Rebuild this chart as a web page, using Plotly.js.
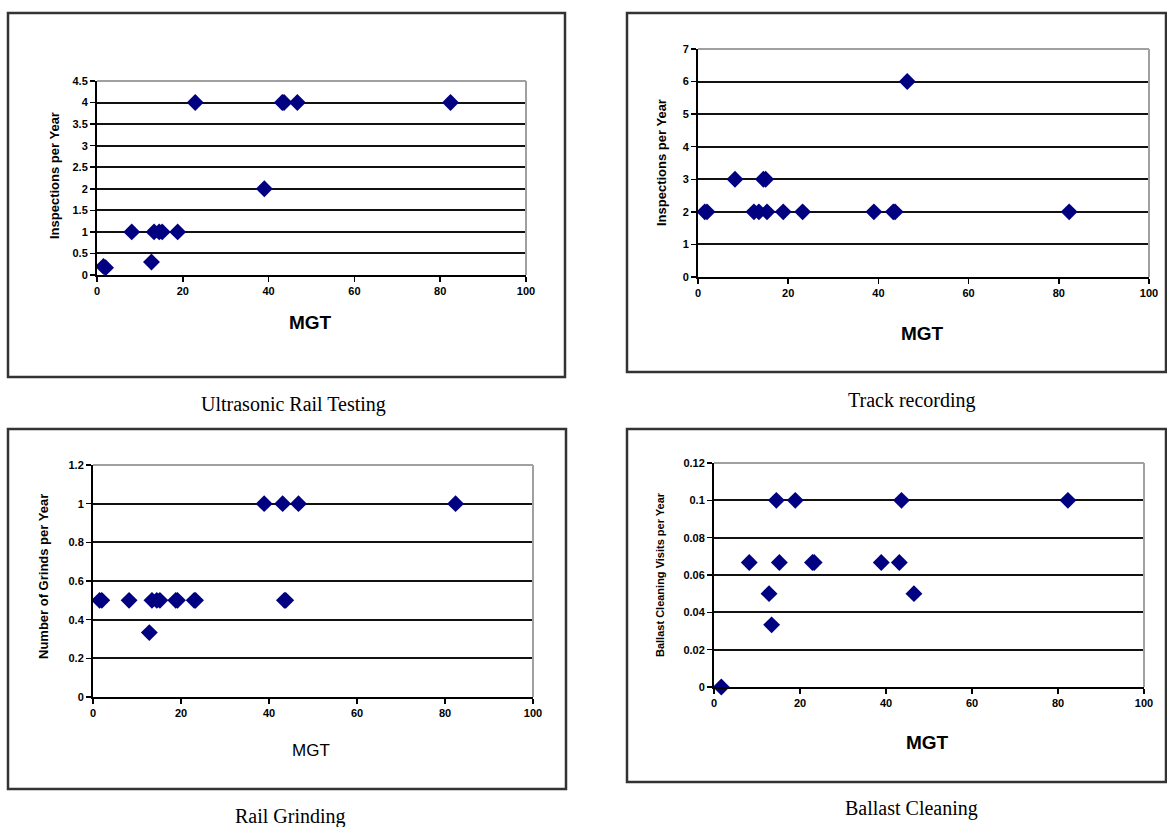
<!DOCTYPE html>
<html>
<head>
<meta charset="utf-8">
<script src="https://cdn.plot.ly/plotly-3.0.1.min.js"></script>
<style>html,body{margin:0;padding:0;background:#fff;}#chart{width:1167px;height:827px;}</style>
</head>
<body>
<div id="chart"></div>
<script>
// ---- data ----
const panelTitles = ["Ultrasonic Rail Testing", "Track recording", "Rail Grinding", "Ballast Cleaning"];
const yTitles = ["Inspections per Year", "Inspections per Year", "Number of Grinds per Year", "Ballast Cleaning Visits per Year"];
const xTitle = "MGT";

const utX = [1.5, 2.0, 8.1, 12.7, 13.3, 14.5, 15.2, 18.8, 22.9, 39.0, 43.2, 43.6, 46.7, 82.4];
const utY = [0.2, 0.17, 1, 0.3, 1, 1, 1, 1, 4, 2, 4, 4, 4, 4];

const trX = [1.5, 2.0, 8.2, 12.4, 13.5, 14.5, 15.0, 15.3, 18.9, 23.2, 39.0, 43.3, 43.7, 46.4, 82.3];
const trY = [2, 2, 3, 2, 2, 3, 3, 2, 2, 2, 2, 2, 2, 6, 2];

const rgX = [1.5, 2.0, 8.2, 12.8, 13.4, 14.5, 15.2, 18.8, 19.2, 23.0, 23.3, 38.9, 43.1, 43.5, 43.8, 46.7, 82.4];
const rgY = [0.5, 0.5, 0.5, 0.333, 0.5, 0.5, 0.5, 0.5, 0.5, 0.5, 0.5, 1, 1, 0.5, 0.5, 1, 1];

const bcX = [1.7, 8.2, 12.8, 13.4, 14.5, 15.2, 18.9, 22.9, 23.3, 38.9, 43.1, 43.6, 46.5, 82.3];
const bcY = [0, 0.0667, 0.05, 0.0333, 0.1, 0.0667, 0.1, 0.0667, 0.0667, 0.0667, 0.0667, 0.1, 0.05, 0.1];

const xTicks = [0, 20, 40, 60, 80, 100];
const utTicks = [0, 0.5, 1, 1.5, 2, 2.5, 3, 3.5, 4, 4.5];
const trTicks = [0, 1, 2, 3, 4, 5, 6, 7];
const rgTicks = [0, 0.2, 0.4, 0.6, 0.8, 1, 1.2];
const bcTicks = [0, 0.02, 0.04, 0.06, 0.08, 0.1, 0.12];

// ---- layout geometry (pixels) ----
const W = 1167, H = 827;
const px = v => v / W;
const py = v => 1 - v / H;

const plots = [
  {xs: utX, ys: utY, ticks: utTicks, ytext: ["0","0.5","1","1.5","2","2.5","3","3.5","4","4.5"], l: 97, r: 526, t: 81, b: 275},
  {xs: trX, ys: trY, ticks: trTicks, ytext: null, l: 698, r: 1149, t: 49, b: 277},
  {xs: rgX, ys: rgY, ticks: rgTicks, ytext: ["0","0.2","0.4","0.6","0.8","1","1.2"], l: 93, r: 533, t: 465, b: 697},
  {xs: bcX, ys: bcY, ticks: bcTicks, ytext: ["0","0.02","0.04","0.06","0.08","0.1","0.12"], l: 714, r: 1144, t: 463, b: 687}
];
const boxes = [
  {x0: 8, x1: 565, y0: 13, y1: 377},
  {x0: 627, x1: 1166, y0: 13, y1: 372},
  {x0: 8, x1: 566, y0: 429, y1: 789},
  {x0: 627, x1: 1166, y0: 429, y1: 782}
];
const captionPos = [[293, 404], [912, 400], [290, 816], [912, 808]];
const xTitlePos = [[310, 323, 19, 'bold'], [922, 333, 19, 'bold'], [311, 750, 17, 'normal'], [927, 742, 19, 'bold']];
const yTitlePos = [[54, 176, 13], [661, 163, 13], [43, 577, 13], [660, 575, 11]];

const tickFont = {family: "Arial, 'Liberation Sans', sans-serif", size: 11, color: '#000', weight: 'bold'};

const traces = [];
const layout = {
  width: W, height: H,
  margin: {l: 0, r: 0, t: 0, b: 0},
  paper_bgcolor: '#fff', plot_bgcolor: '#fff',
  showlegend: false,
  shapes: [], annotations: []
};

plots.forEach((p, i) => {
  const n = i + 1;
  const xa = 'x' + (n === 1 ? '' : n), ya = 'y' + (n === 1 ? '' : n);
  const xk = 'xaxis' + (n === 1 ? '' : n), yk = 'yaxis' + (n === 1 ? '' : n);
  traces.push({
    type: 'scatter', mode: 'markers', x: p.xs, y: p.ys, xaxis: xa, yaxis: ya,
    cliponaxis: false,
    marker: {symbol: 'diamond', size: 13, color: '#000080', line: {width: 0}}
  });
  layout[xk] = {
    domain: [px(p.l), px(p.r)], anchor: ya, range: [0, 100],
    tickmode: 'array', tickvals: xTicks, ticktext: xTicks.map(String),
    showgrid: false, zeroline: false, showline: true, linecolor: '#000', linewidth: 2,
    ticks: 'outside', ticklen: 5, tickwidth: 1.5, tickcolor: '#000',
    tickfont: tickFont, fixedrange: true
  };
  const tv = p.ticks;
  layout[yk] = {
    domain: [py(p.b), py(p.t)], anchor: xa, range: [tv[0], tv[tv.length - 1]],
    tickmode: 'array', tickvals: tv, ticktext: p.ytext ? p.ytext : tv.map(String),
    showgrid: true, gridcolor: '#111', gridwidth: 2,
    zeroline: false, showline: true, linecolor: '#000', linewidth: 2,
    ticks: 'outside', ticklen: 5, tickwidth: 1.5, tickcolor: '#000',
    tickfont: tickFont, fixedrange: true
  };
  // grey top and right border of the plot area
  layout.shapes.push({type: 'line', xref: xa + ' domain', yref: ya + ' domain', x0: 0, x1: 1, y0: 1, y1: 1, line: {color: '#a0a0a0', width: 2}, layer: 'above'});
  layout.shapes.push({type: 'line', xref: xa + ' domain', yref: ya + ' domain', x0: 1, x1: 1, y0: 0, y1: 1, line: {color: '#a0a0a0', width: 2}, layer: 'above'});
  // outer chart box
  const b = boxes[i];
  layout.shapes.push({type: 'rect', xref: 'paper', yref: 'paper', x0: px(b.x0), x1: px(b.x1), y0: py(b.y1), y1: py(b.y0), line: {color: '#333', width: 2.5}, fillcolor: 'rgba(0,0,0,0)', layer: 'below'});
  // caption
  layout.annotations.push({xref: 'paper', yref: 'paper', x: px(captionPos[i][0]), y: py(captionPos[i][1]), text: panelTitles[i], showarrow: false, xanchor: 'center', yanchor: 'middle', font: {family: "'Times New Roman', 'Liberation Serif', serif", size: 20, color: '#000'}});
  // x title
  const xt = xTitlePos[i];
  layout.annotations.push({xref: 'paper', yref: 'paper', x: px(xt[0]), y: py(xt[1]), text: xTitle, showarrow: false, xanchor: 'center', yanchor: 'middle', font: {family: "Arial, 'Liberation Sans', sans-serif", size: xt[2], color: '#000', weight: xt[3]}});
  // y title
  const yt = yTitlePos[i];
  layout.annotations.push({xref: 'paper', yref: 'paper', x: px(yt[0]), y: py(yt[1]), text: yTitles[i], showarrow: false, textangle: -90, xanchor: 'center', yanchor: 'middle', font: {family: "Arial, 'Liberation Sans', sans-serif", size: yt[2], color: '#000', weight: 'bold'}});
});

Plotly.newPlot('chart', traces, layout, {displayModeBar: false, staticPlot: true});
</script>
</body>
</html>
